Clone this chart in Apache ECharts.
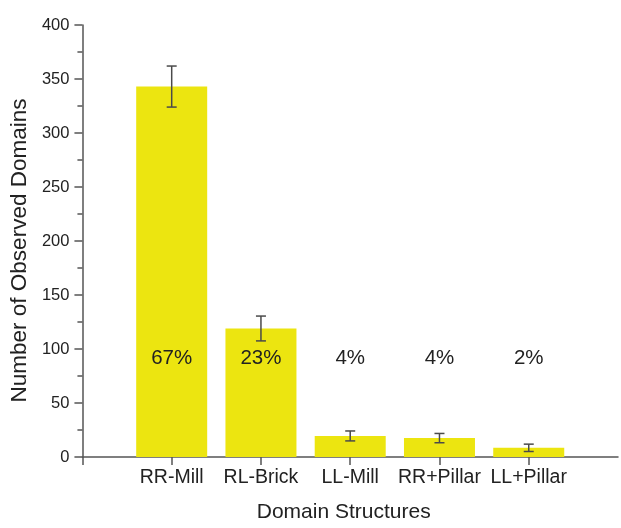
<!DOCTYPE html>
<html>
<head>
<meta charset="utf-8">
<script src="https://cdn.jsdelivr.net/npm/echarts@6/dist/echarts.min.js"></script>
<style>
  html, body { margin: 0; padding: 0; background: #fff; }
  #chart { width: 621px; height: 528px; }
</style>
</head>
<body>
<div id="chart"></div>
<script>
// domain structure counts
var categories = ['RR-Mill', 'RL-Brick', 'LL-Mill', 'RR+Pillar', 'LL+Pillar'];
var counts = [343, 119, 19.5, 17.5, 8.5];
var errors = [19, 11.5, 4.6, 4.3, 3.4];
var percents = ['67%', '23%', '4%', '4%', '2%'];
var yTicks = [0, 50, 100, 150, 200, 250, 300, 350, 400];

var PCT_Y = 91;   // height where the percent labels sit
var axisCats = [''].concat(categories, ['']);   // empty slots keep the gap at both ends

var txt = '#222';
var axisCol = '#555';
var font = 'Liberation Sans, Arial, sans-serif';

var chart = echarts.init(document.getElementById('chart'));

chart.setOption({
  backgroundColor: '#fff',
  animation: false,
  grid: { left: 82, right: 0, top: 25, bottom: 66, containLabel: false },
  xAxis: {
    type: 'category',
    data: axisCats,
    boundaryGap: false,
    name: 'Domain Structures',
    nameLocation: 'middle',
    nameGap: 45,
    nameTextStyle: { fontSize: 21, color: txt, fontFamily: font, padding: [0, 13, 0, 0] },
    axisLine: { lineStyle: { color: axisCol, width: 1.5 } },
    axisTick: {
      show: true, length: 8, inside: false,
      interval: function (idx) { return idx < axisCats.length - 1; },
      lineStyle: { color: axisCol, width: 1.5 }
    },
    axisLabel: { interval: 0, fontSize: 19.5, color: txt, fontFamily: font, margin: 11 },
    splitLine: { show: false }
  },
  yAxis: {
    type: 'value',
    min: yTicks[0],
    max: yTicks[yTicks.length - 1],
    interval: 50,
    name: 'Number of Observed Domains',
    nameLocation: 'middle',
    nameGap: 42,
    nameTextStyle: { fontSize: 22.5, color: txt, fontFamily: font, padding: [0, 19, 0, 0] },
    axisLine: { show: true, lineStyle: { color: axisCol, width: 1.5 } },
    axisTick: { show: true, length: 8, lineStyle: { color: axisCol, width: 1.5 } },
    minorTick: { show: true, splitNumber: 2, length: 5, lineStyle: { color: axisCol, width: 1.5 } },
    axisLabel: { fontSize: 16.5, color: txt, fontFamily: font, margin: 13 },
    splitLine: { show: false }
  },
  series: [
    {
      type: 'bar',
      barWidth: 71,
      itemStyle: { color: '#ece510' },
      data: counts.map(function (v, i) { return [i + 1, v]; })
    },
    {
      // error bars
      type: 'custom',
      data: counts.map(function (v, i) { return [i + 1, v - errors[i], v + errors[i]]; }),
      renderItem: function (params, api) {
        var lo = api.coord([api.value(0), api.value(1)]);
        var hi = api.coord([api.value(0), api.value(2)]);
        var cap = 5;
        var st = { stroke: '#4a4a4a', lineWidth: 1.5 };
        return {
          type: 'group',
          children: [
            { type: 'line', shape: { x1: lo[0], y1: lo[1], x2: hi[0], y2: hi[1] }, style: st },
            { type: 'line', shape: { x1: lo[0] - cap, y1: lo[1], x2: lo[0] + cap, y2: lo[1] }, style: st },
            { type: 'line', shape: { x1: hi[0] - cap, y1: hi[1], x2: hi[0] + cap, y2: hi[1] }, style: st }
          ]
        };
      },
      z: 5
    },
    {
      // percentage labels
      type: 'custom',
      data: percents.map(function (p, i) { return [i + 1, PCT_Y]; }),
      renderItem: function (params, api) {
        var pt = api.coord([api.value(0), api.value(1)]);
        return {
          type: 'text',
          x: pt[0],
          y: pt[1],
          style: {
            text: percents[params.dataIndex],
            fontSize: 20.5,
            fontFamily: font,
            fill: txt,
            align: 'center',
            verticalAlign: 'middle'
          }
        };
      },
      z: 6
    }
  ]
});
</script>
</body>
</html>
